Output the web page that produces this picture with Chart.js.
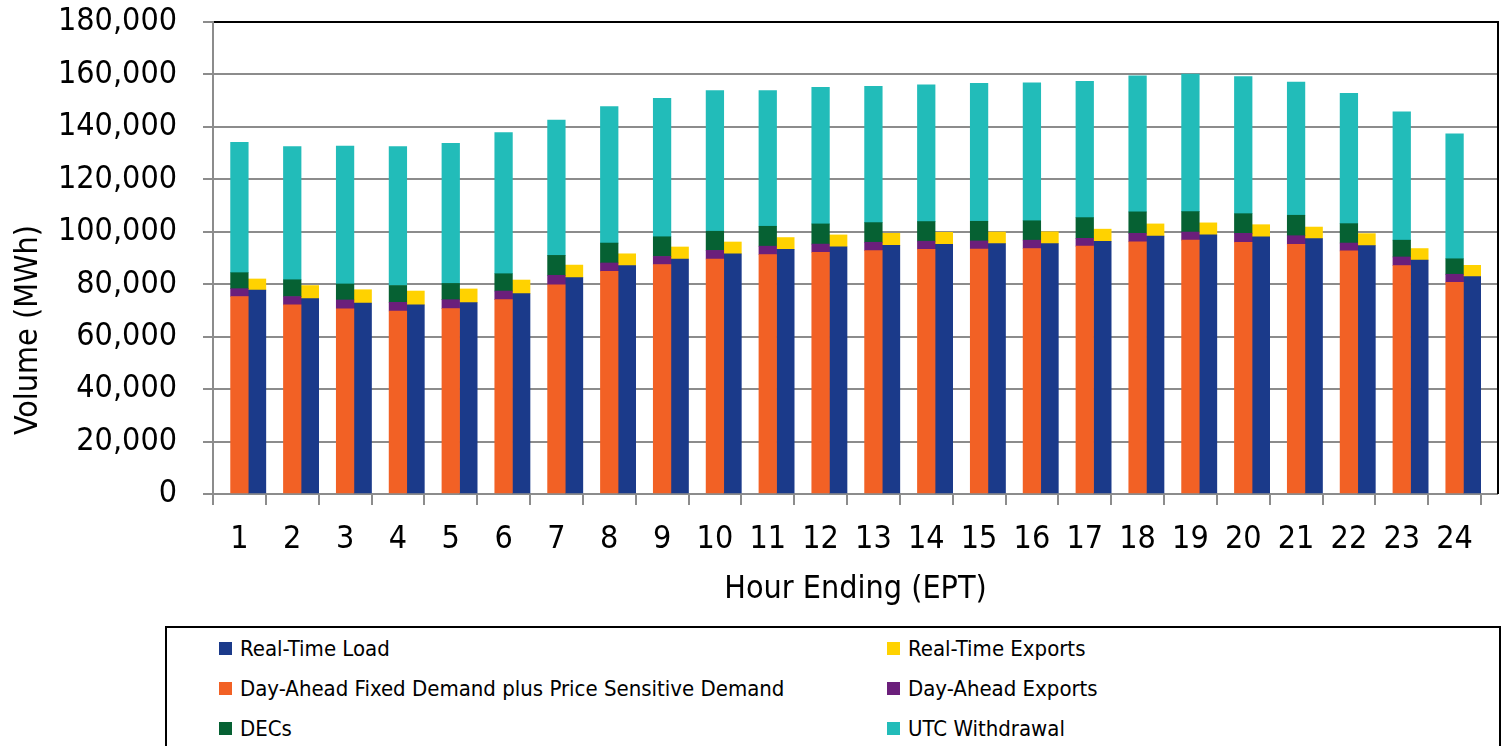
<!DOCTYPE html>
<html>
<head>
<meta charset="utf-8">
<script src="https://cdn.jsdelivr.net/npm/chart.js@4"></script>
<style>
  body { margin: 0; background: #fff; }
  #wrap { position: relative; width: 1501px; height: 746px; overflow: hidden; }
  #chart { position: absolute; left: 0; top: 0; }
  #legend {
    position: absolute; left: 165px; top: 626px; width: 1336px; height: 140px;
    box-sizing: border-box; border: 2px solid #000; padding-left: 52px;
    display: grid; grid-template-columns: 668px auto; grid-auto-rows: 40px;
    font-family: "Liberation Sans Narrow", "Arial Narrow", "DejaVu Sans Condensed", sans-serif;
    font-size: 22px; color: #000;
  }
  .item { display: flex; align-items: center; white-space: nowrap; }
  .swatch { width: 13px; height: 13px; margin-right: 8px; flex: none; }
</style>
</head>
<body>
<div id="wrap">
  <canvas id="chart" width="1501" height="626"></canvas>
  <div id="legend"></div>
</div>
<script>
var hours = ["1","2","3","4","5","6","7","8","9","10","11","12","13","14","15","16","17","18","19","20","21","22","23","24"];

// Day-Ahead stack (MWh)
var daFixedDemand = [75300,72100,70600,69800,70700,74100,79800,84900,87500,89600,91300,92200,92800,93300,93400,93600,94500,96200,96800,96000,95200,92700,87100,80700];
var daExports = [3000,3200,3400,3300,3400,3300,3600,3200,3100,3300,3200,3100,3200,3100,3100,3200,3000,3200,3100,3400,3300,3000,3300,3100];
var decs = [6100,6400,6100,6400,6200,6600,7600,7600,7500,7300,7600,7700,7500,7500,7500,7400,7900,8200,7800,7500,7800,7400,6400,5900];
var utcWithdrawal = [49700,50800,52600,53000,53400,53800,51600,52000,52800,53600,51700,52100,52000,52100,52600,52600,52000,51900,52400,52300,50800,49700,48900,47700];

// Real-Time stack (MWh)
var rtLoad = [77800,74500,72800,72100,73000,76400,82500,87100,89600,91600,93300,94300,94800,95200,95500,95500,96400,98400,98800,98100,97400,94700,89200,82900];
var rtExports = [4200,5000,5100,5300,5200,5200,4800,4500,4600,4500,4500,4500,4600,4600,4400,4500,4600,4600,4600,4600,4400,4600,4400,4300];

var yTicks = { min: 0, max: 180000, step: 20000 };
var xTitle = "Hour Ending (EPT)";
var yTitle = "Volume (MWh)";

var fontFamily = '"Liberation Sans Narrow", "Arial Narrow", "DejaVu Sans Condensed", sans-serif';
var gridColor = "#8c8c8c";
var extendRight = 17;

Chart.defaults.font.family = fontFamily;
Chart.defaults.color = "#000";

var framePlugin = {
  id: "frame",
  beforeDatasetsDraw: function (chart) {
    var ctx = chart.ctx, area = chart.chartArea, y = chart.scales.y;
    ctx.save();
    ctx.lineWidth = 2;
    y.ticks.forEach(function (t) {
      var py = Math.round(y.getPixelForValue(t.value));
      ctx.strokeStyle = t.value === yTicks.max ? "#000" : gridColor;
      ctx.beginPath();
      ctx.moveTo(area.right - 1, py);
      ctx.lineTo(area.right + extendRight, py);
      ctx.stroke();
    });
    ctx.restore();
  },
  afterDraw: function (chart) {
    var ctx = chart.ctx, area = chart.chartArea;
    var right = area.right + extendRight;
    ctx.save();
    ctx.strokeStyle = "#000";
    ctx.lineWidth = 2;
    ctx.beginPath();
    ctx.moveTo(right, area.top - 1);
    ctx.lineTo(right, area.bottom);
    ctx.stroke();

    ctx.fillStyle = "#000";
    ctx.textAlign = "center";
    ctx.textBaseline = "middle";
    ctx.font = "32px " + fontFamily;
    ctx.fillText(xTitle, (area.left + right) / 2, area.bottom + 96);
    ctx.translate(29, area.top + 308);
    ctx.rotate(-Math.PI / 2);
    ctx.fillText(yTitle, 0, 0);
    ctx.restore();
  }
};

var datasets = [
  { label: "", data: hours.map(function () { return null; }), stack: "gap", backgroundColor: "transparent" },
  { label: "Day-Ahead Fixed Demand plus Price Sensitive Demand", data: daFixedDemand, stack: "da", backgroundColor: "#F26125" },
  { label: "Day-Ahead Exports", data: daExports, stack: "da", backgroundColor: "#6B1F7B" },
  { label: "DECs", data: decs, stack: "da", backgroundColor: "#066133" },
  { label: "UTC Withdrawal", data: utcWithdrawal, stack: "da", backgroundColor: "#22BCB9" },
  { label: "Real-Time Load", data: rtLoad, stack: "rt", backgroundColor: "#1B3A8A" },
  { label: "Real-Time Exports", data: rtExports, stack: "rt", backgroundColor: "#FFD200" }
];

var chart = new Chart(document.getElementById("chart"), {
  type: "bar",
  data: { labels: hours, datasets: datasets },
  options: {
    responsive: false,
    animation: false,
    layout: { padding: { top: 22, right: 20, bottom: 0, left: 0 } },
    datasets: { bar: { categoryPercentage: 1, barPercentage: 1, borderWidth: 0 } },
    plugins: { legend: { display: false }, tooltip: { enabled: false } },
    scales: {
      x: {
        stacked: true,
        afterFit: function (scale) { scale.height = 132; scale.paddingLeft = 0; scale.paddingRight = 0; },
        border: { color: gridColor, width: 2 },
        grid: { offset: true, drawOnChartArea: false, tickLength: 11, color: gridColor, lineWidth: 2 },
        ticks: { font: { size: 32 }, padding: 15, maxRotation: 0, autoSkip: false }
      },
      y: {
        stacked: true,
        min: yTicks.min,
        max: yTicks.max,
        afterFit: function (scale) { scale.width = 213; scale.paddingTop = 0; scale.paddingBottom = 0; },
        border: { color: gridColor, width: 2 },
        grid: {
          tickLength: 10,
          lineWidth: 2,
          tickColor: gridColor,
          color: function (c) { return c.tick && c.tick.value === yTicks.max ? "#000" : gridColor; }
        },
        ticks: {
          stepSize: yTicks.step,
          padding: 26,
          font: { size: 32 },
          callback: function (v) { return v.toLocaleString("en-US"); }
        }
      }
    }
  },
  plugins: [framePlugin]
});

// two-column legend built from the chart's own datasets
var legendOrder = ["Real-Time Load", "Real-Time Exports", "Day-Ahead Fixed Demand plus Price Sensitive Demand", "Day-Ahead Exports", "DECs", "UTC Withdrawal"];
var legendEl = document.getElementById("legend");
legendOrder.forEach(function (name) {
  var ds = chart.data.datasets.filter(function (d) { return d.label === name; })[0];
  var item = document.createElement("div");
  item.className = "item";
  var sw = document.createElement("span");
  sw.className = "swatch";
  sw.style.background = ds.backgroundColor;
  item.appendChild(sw);
  item.appendChild(document.createTextNode(ds.label));
  legendEl.appendChild(item);
});
</script>
</body>
</html>
